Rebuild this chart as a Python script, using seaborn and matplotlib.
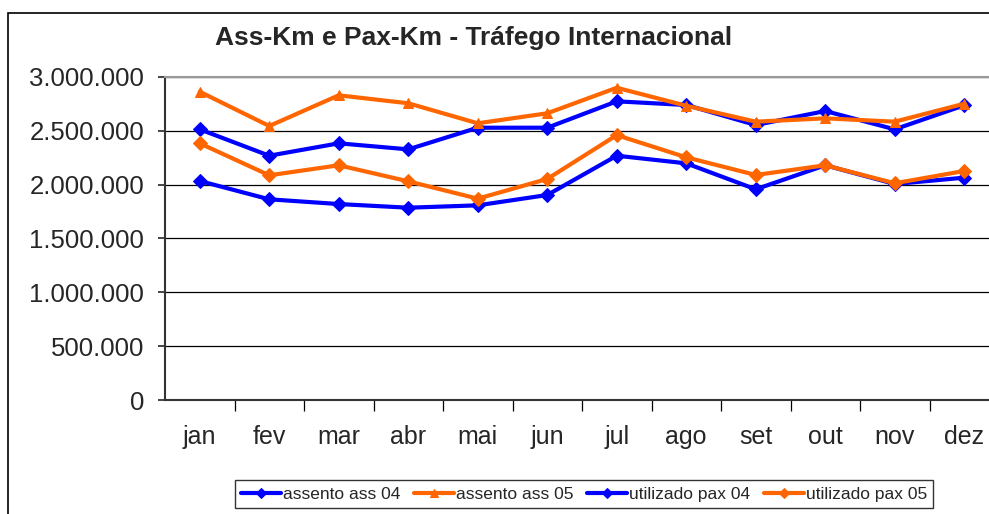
import pandas as pd
import numpy as np
import matplotlib
matplotlib.use("Agg")
import matplotlib.pyplot as plt
import seaborn as sns
from matplotlib.ticker import FuncFormatter, FixedLocator
from matplotlib.patches import Rectangle

# dados
meses = ["jan", "fev", "mar", "abr", "mai", "jun", "jul", "ago", "set", "out", "nov", "dez"]
assento_04 = [2514000, 2269000, 2384000, 2328000, 2529000, 2529000, 2774000, 2740000, 2554000, 2684000, 2514000, 2737000]
assento_05 = [2863000, 2545000, 2830000, 2756000, 2570000, 2663000, 2900000, 2733000, 2585000, 2616000, 2585000, 2752000]
utilizado_04 = [2034000, 1864000, 1820000, 1786000, 1808000, 1904000, 2269000, 2198000, 1957000, 2180000, 2006000, 2065000]
utilizado_05 = [2384000, 2087000, 2180000, 2031000, 1870000, 2053000, 2460000, 2254000, 2090000, 2180000, 2013000, 2127000]

series = [
    ("assento ass 04", assento_04, "#0000FF", "D"),
    ("assento ass 05", assento_05, "#FF6600", "^"),
    ("utilizado pax 04", utilizado_04, "#0000FF", "D"),
    ("utilizado pax 05", utilizado_05, "#FF6600", "D"),
]

sns.set_style("white")
plt.rcParams['font.family'] = ['Liberation Sans', 'DejaVu Sans']

fig = plt.figure(figsize=(9.89, 5.14), dpi=100)
ax = fig.add_axes([165/989, 1 - 400/514, 834/989, 323/514])

for nome, valores, cor, marc in series:
    df = pd.DataFrame({"mes": meses, "valor": valores})
    sns.lineplot(data=df, x="mes", y="valor", ax=ax, color=cor, marker=marc,
                 markersize=7, markeredgecolor=cor, linewidth=3, label=nome, sort=False)

ax.set_ylim(0, 3000000)
ax.set_xlim(-0.5, 11.5)
ax.set_yticks(np.arange(0, 3000001, 500000))
ax.yaxis.set_major_formatter(FuncFormatter(lambda v, p: f"{int(v):,}".replace(",", ".")))
ax.grid(axis="y", color="black", linewidth=0.9)
ax.set_axisbelow(True)
ax.set_xlabel("")
ax.set_ylabel("")

ax.xaxis.set_minor_locator(FixedLocator(np.arange(0.5, 11.5, 1)))
ax.tick_params(axis="x", which="major", length=0, pad=18, labelsize=18)
ax.tick_params(axis="x", which="minor", length=8, width=0.9, color="black", direction="out", bottom=True)
ax.tick_params(axis="y", length=5, width=1.2, direction="out", left=True, labelsize=18.5, pad=10)

for lado in ["left", "bottom"]:
    ax.spines[lado].set_color("#333333")
    ax.spines[lado].set_linewidth(1.5)
ax.spines["top"].set_color("#999999")
ax.spines["top"].set_linewidth(1.5)
ax.spines["right"].set_visible(False)

fig.text(474/989, 1 - 38/514, "Ass-Km e Pax-Km - Tráfego Internacional",
         ha="center", va="center", fontsize=19, fontweight="bold")

leg = ax.legend(loc="center", bbox_to_anchor=(584/989, 1 - 494/514), bbox_transform=fig.transFigure,
                ncol=4, fontsize=12.5, frameon=True, fancybox=False, edgecolor="black",
                handlelength=2.3, columnspacing=0.8, handletextpad=0.1, borderpad=0.35,
                markerscale=0.8)
leg.get_frame().set_linewidth(1)

# moldura externa
fig.patches.append(Rectangle((8/989, -0.1), 1.1, 1 - 13/514 + 0.1, transform=fig.transFigure,
                             fill=False, edgecolor="black", linewidth=1.2))

fig.savefig("out.png", dpi=100)
